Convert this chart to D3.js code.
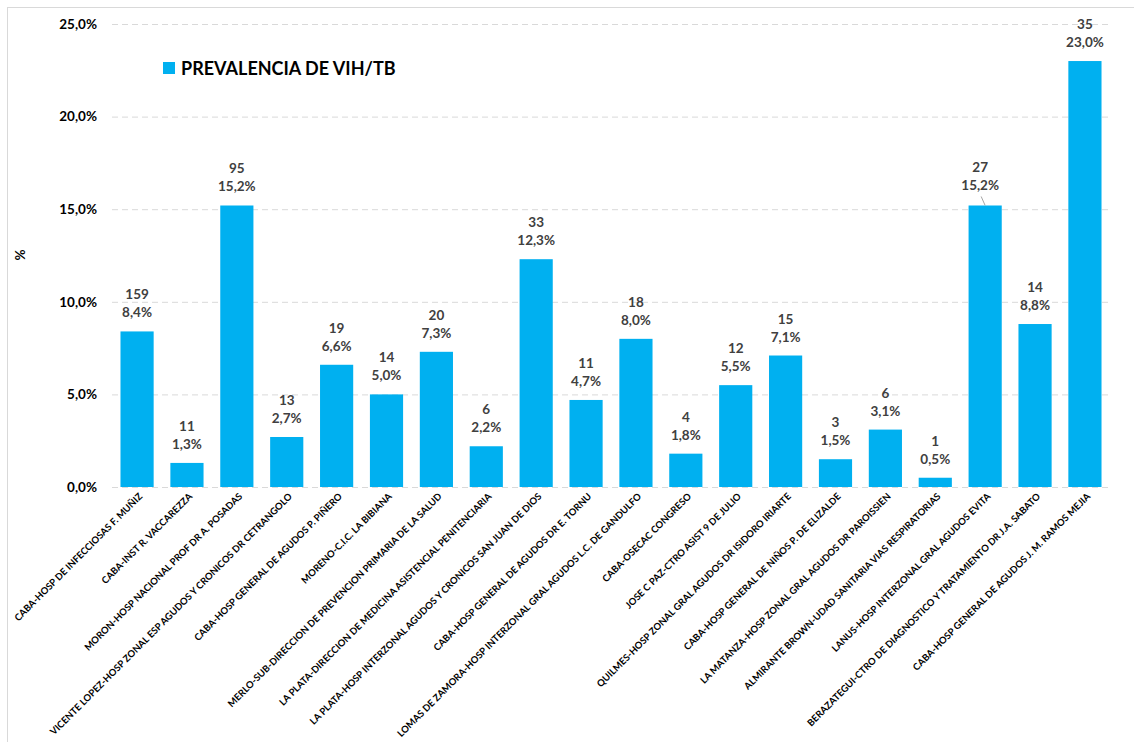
<!DOCTYPE html>
<html>
<head>
<meta charset="utf-8">
<script src="https://cdn.jsdelivr.net/npm/d3@7"></script>
<style>
html,body{margin:0;padding:0;background:#fff;}
svg{display:block;font-family:"Lato","Open Sans",sans-serif;}
</style>
</head>
<body>
<svg id="chart" width="1134" height="742"></svg>
<script>
const categories = [
  "CABA-HOSP DE INFECCIOSAS F. MUÑIZ",
  "CABA-INST R. VACCAREZZA",
  "MORON-HOSP NACIONAL PROF DR A. POSADAS",
  "VICENTE LOPEZ-HOSP ZONAL ESP AGUDOS Y CRONICOS DR CETRANGOLO",
  "CABA-HOSP GENERAL DE AGUDOS P. PIÑERO",
  "MORENO-C.I.C. LA BIBIANA",
  "MERLO-SUB-DIRECCION DE PREVENCION PRIMARIA DE LA SALUD",
  "LA PLATA-DIRECCION DE MEDICINA ASISTENCIAL PENITENCIARIA",
  "LA PLATA-HOSP INTERZONAL AGUDOS Y CRONICOS SAN JUAN DE DIOS",
  "CABA-HOSP GENERAL DE AGUDOS DR E. TORNU",
  "LOMAS DE ZAMORA-HOSP INTERZONAL GRAL AGUDOS L.C. DE GANDULFO",
  "CABA-OSECAC CONGRESO",
  "JOSE C PAZ-CTRO ASIST 9 DE JULIO",
  "QUILMES-HOSP ZONAL GRAL AGUDOS DR ISIDORO IRIARTE",
  "CABA-HOSP GENERAL DE NIÑOS P. DE ELIZALDE",
  "LA MATANZA-HOSP ZONAL GRAL AGUDOS DR PAROISSIEN",
  "ALMIRANTE BROWN-UDAD SANITARIA VIAS RESPIRATORIAS",
  "LANUS-HOSP INTERZONAL GRAL AGUDOS EVITA",
  "BERAZATEGUI-CTRO DE DIAGNOSTICO Y TRATAMIENTO DR J.A. SABATO",
  "CABA-HOSP GENERAL DE AGUDOS J. M. RAMOS MEJIA"
];
const prevalence = [8.4, 1.3, 15.2, 2.7, 6.6, 5.0, 7.3, 2.2, 12.3, 4.7, 8.0, 1.8, 5.5, 7.1, 1.5, 3.1, 0.5, 15.2, 8.8, 23.0];
const counts = [159, 11, 95, 13, 19, 14, 20, 6, 33, 11, 18, 4, 12, 15, 3, 6, 1, 27, 14, 35];
const yTicks = [0, 5, 10, 15, 20, 25];
const seriesName = "PREVALENCIA DE VIH/TB";
const yTitle = "%";

const fmt = v => v.toFixed(1).replace(".", ",") + "%";
const svg = d3.select("#chart");
const color = "#00B0F0";
const labelColor = "#404040";

// frame
svg.append("rect").attr("x", 7.5).attr("y", 7.5).attr("width", 1140).attr("height", 760)
  .attr("fill", "none").attr("stroke", "#d9d9d9").attr("stroke-width", 1);

const mLeft = 112, mRight = 1110, mTop = 24, mBottom = 487;
const x = d3.scaleBand().domain(categories).range([mLeft, mRight]).paddingInner(0.335).paddingOuter(0.17);
const y = d3.scaleLinear().domain([0, 25]).range([mBottom, mTop]);

// gridlines
svg.append("g").selectAll("line").data(yTicks).join("line")
  .attr("x1", mLeft).attr("x2", mRight)
  .attr("y1", d => y(d) + 0.5).attr("y2", d => y(d) + 0.5)
  .attr("stroke", "#d9d9d9").attr("stroke-width", 1).attr("stroke-dasharray", "6,4");

// y axis
const yAxis = svg.append("g").attr("transform", `translate(${mLeft},0)`)
  .call(d3.axisLeft(y).tickValues(yTicks).tickSize(0).tickPadding(15).tickFormat(fmt));
yAxis.select(".domain").remove();
yAxis.selectAll("text").attr("font-size", 13.5).attr("font-weight", "bold").attr("fill", "#000")
  .attr("font-family", "Lato, sans-serif");

// y title
svg.append("text").attr("transform", "translate(25,255) rotate(-90)")
  .attr("text-anchor", "middle").attr("font-size", 13.5).attr("font-weight", "bold").text(yTitle);

// bars
svg.append("g").selectAll("rect").data(prevalence).join("rect")
  .attr("x", (d, i) => x(categories[i]))
  .attr("width", x.bandwidth())
  .attr("y", d => y(d))
  .attr("height", d => y(0) - y(d))
  .attr("fill", color);

// data labels
const lbl = svg.append("g").attr("font-size", 13.5).attr("font-weight", "bold")
  .attr("fill", labelColor).attr("text-anchor", "middle");
prevalence.forEach((v, i) => {
  const cx = x(categories[i]) + x.bandwidth() / 2;
  const yTop = y(v);
  const off = (i === 17) ? 1 : 0;
  const dx = (i === 17) ? -5 : 0;
  lbl.append("text").attr("x", cx + dx).attr("y", yTop - 14 - off).text(fmt(v));
  lbl.append("text").attr("x", cx + dx).attr("y", yTop - 32 - off).text(counts[i]);
  if (i === 17) {
    svg.append("line").attr("x1", cx - 4).attr("y1", yTop - 9).attr("x2", cx).attr("y2", yTop)
      .attr("stroke", "#a6a6a6").attr("stroke-width", 1);
  }
});

// x labels
const xl = svg.append("g").attr("font-size", 9.5).attr("font-weight", "bold").attr("fill", "#000");
categories.forEach((c, i) => {
  const cx = x(c) + x.bandwidth() / 2;
  xl.append("text").attr("text-anchor", "end")
    .attr("transform", `translate(${cx + 6},${mBottom + 10}) rotate(-45)`)
    .text(c);
});

// legend
svg.append("rect").attr("x", 163).attr("y", 62).attr("width", 12).attr("height", 12).attr("fill", color);
svg.append("text").attr("x", 181).attr("y", 75).attr("font-size", 18).attr("font-weight", "bold")
  .attr("fill", "#000").text(seriesName);
</script>
</body>
</html>
